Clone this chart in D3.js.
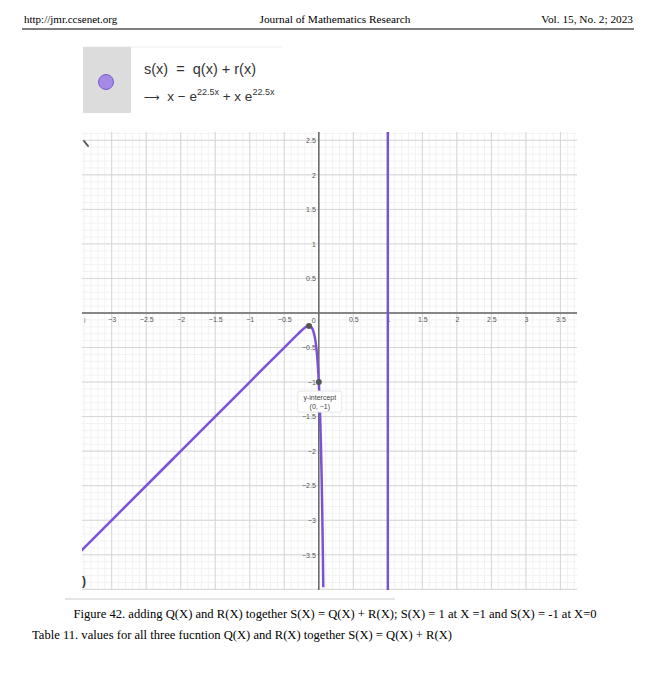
<!DOCTYPE html>
<html><head><meta charset="utf-8">
<script src="https://cdn.jsdelivr.net/npm/d3@7"></script>
<style>body{margin:0;background:#fff}svg{display:block}</style>
</head><body>
<svg id="c" width="655" height="677"></svg>
<script>
// ---- data ----
const xTicks = [-3, -2.5, -2, -1.5, -1, -0.5, 0.5, 1, 1.5, 2, 2.5, 3, 3.5];
const yTicks = [-3.5, -3, -2.5, -2, -1.5, -1, -0.5, 0.5, 1, 1.5, 2, 2.5];
const curveX = [-3.5, -2, -1, -0.5, -0.3, -0.22, -0.18, -0.15, -0.142, -0.12, -0.1, -0.08, -0.06, -0.04, -0.02, 0, 0.01, 0.02, 0.03, 0.04, 0.05, 0.06, 0.065];
const curveY = [-3.5, -2, -1, -0.5, -0.302, -0.227, -0.199, -0.189, -0.188, -0.196, -0.216, -0.261, -0.339, -0.464, -0.670, -1, -1.23, -1.517, -1.87, -2.32, -2.88, -3.57, -3.97];
const asymX = [1, 1];
const asymY = [-4.2, 2.8];
const marked = [{x: -0.142, y: -0.188}, {x: 0, y: -1}];

const svg = d3.select("#c");
const L = 82, R = 577, T = 132, B = 590;
const x = d3.scaleLinear().domain([-3.43, 3.74]).range([L, R]);
const y = d3.scaleLinear().domain([-4.01, 2.62]).range([B, T]);

// header
svg.append("text").attr("x", 24).attr("y", 23).attr("font-family", "Liberation Serif").attr("font-size", 11).attr("fill", "#000").text("http://jmr.ccsenet.org");
svg.append("text").attr("x", 335).attr("y", 23).attr("text-anchor", "middle").attr("font-family", "Liberation Serif").attr("font-size", 11.3).text("Journal of Mathematics Research");
svg.append("text").attr("x", 633).attr("y", 23).attr("text-anchor", "end").attr("font-family", "Liberation Serif").attr("font-size", 11.3).text("Vol. 15, No. 2; 2023");
svg.append("line").attr("x1", 22).attr("x2", 634).attr("y1", 29).attr("y2", 29).attr("stroke", "#000").attr("stroke-width", 1);

// formula panel
svg.append("line").attr("x1", 83).attr("x2", 282).attr("y1", 47).attr("y2", 47).attr("stroke", "#eee");
svg.append("rect").attr("x", 83).attr("y", 47).attr("width", 48).attr("height", 66).attr("fill", "#dcdcdc");
svg.append("circle").attr("cx", 106).attr("cy", 82).attr("r", 7.5).attr("fill", "#a58be6").attr("stroke", "#7a5ccc").attr("stroke-width", 1);
const fF = "Liberation Sans";
svg.append("text").attr("x", 144).attr("y", 74).attr("font-family", fF).attr("font-size", 14.5).attr("fill", "#333").attr("xml:space", "preserve").text("s(x)  =  q(x) + r(x)");
const t2 = svg.append("text").attr("x", 144).attr("y", 101).attr("font-family", fF).attr("font-size", 13.5).attr("fill", "#333").attr("xml:space", "preserve");
t2.append("tspan").attr("font-family", "DejaVu Sans").attr("font-size", 11).text("\u27F6");
t2.append("tspan").text("  x \u2212 e");
t2.append("tspan").attr("dy", -6).attr("font-size", 9).text("22.5x");
t2.append("tspan").attr("dy", 6).text(" + x e");
t2.append("tspan").attr("dy", -6).attr("font-size", 9).text("22.5x");

// grid
const g = svg.append("g");
const minorX = d3.range(-34, 38).map(d => d / 10);
const minorY = d3.range(-40, 27).map(d => d / 10);
g.selectAll(".mx").data(minorX).join("line").attr("x1", d => x(d)).attr("x2", d => x(d)).attr("y1", T).attr("y2", B).attr("stroke", "#f2f2f2").attr("stroke-width", 1);
g.selectAll(".my").data(minorY).join("line").attr("y1", d => y(d)).attr("y2", d => y(d)).attr("x1", L).attr("x2", R).attr("stroke", "#f2f2f2").attr("stroke-width", 1);
const majorX = d3.range(-6, 8).map(d => d / 2);
const majorY = d3.range(-8, 6).map(d => d / 2);
g.selectAll(".Mx").data(majorX).join("line").attr("x1", d => x(d)).attr("x2", d => x(d)).attr("y1", T).attr("y2", B).attr("stroke", "#d6d6d6").attr("stroke-width", 1);
g.selectAll(".My").data(majorY).join("line").attr("y1", d => y(d)).attr("y2", d => y(d)).attr("x1", L).attr("x2", R).attr("stroke", "#d6d6d6").attr("stroke-width", 1);

// axes
const fmt = d => (d < 0 ? "\u2212" : "") + Math.abs(d);
const ax = svg.append("g").attr("transform", `translate(0,${y(0)})`)
  .call(d3.axisBottom(x).tickValues(xTicks).tickSize(0).tickPadding(4).tickFormat(fmt));
ax.select(".domain").remove();
ax.selectAll("text").attr("font-family", fF).attr("font-size", 7).attr("fill", "#555");
const ay = svg.append("g").attr("transform", `translate(${x(0)},0)`)
  .call(d3.axisLeft(y).tickValues(yTicks).tickSize(0).tickPadding(3).tickFormat(fmt));
ay.select(".domain").remove();
ay.selectAll("text").attr("font-family", fF).attr("font-size", 7).attr("fill", "#555");
svg.append("line").attr("x1", L).attr("x2", R).attr("y1", y(0)).attr("y2", y(0)).attr("stroke", "#666").attr("stroke-width", 1.5);
svg.append("line").attr("x1", x(0)).attr("x2", x(0)).attr("y1", T).attr("y2", B).attr("stroke", "#666").attr("stroke-width", 1.5);
svg.append("text").attr("x", x(0) - 5).attr("y", y(0) + 10).attr("text-anchor", "middle").attr("font-family", fF).attr("font-size", 7).attr("fill", "#555").text("0");
svg.append("text").attr("x", L + 2).attr("y", y(0) + 10).attr("font-family", fF).attr("font-size", 7).attr("fill", "#777").text("i");

// curves
svg.append("clipPath").attr("id", "clip").append("rect").attr("x", L).attr("y", T).attr("width", R - L).attr("height", B - T);
const line = d3.line().x(d => x(d[0])).y(d => y(d[1])).curve(d3.curveMonotoneX);
const pts = curveX.map((v, i) => [v, curveY[i]]);
svg.append("path").attr("clip-path", "url(#clip)").attr("d", line(pts)).attr("fill", "none").attr("stroke", "#7b52d6").attr("stroke-width", 2.5);
svg.append("path").attr("clip-path", "url(#clip)").attr("d", d3.line().x(d => x(d[0])).y(d => y(d[1]))(asymX.map((v, i) => [v, asymY[i]]))).attr("fill", "none").attr("stroke", "#7b52d6").attr("stroke-width", 2.5);

// marked points
svg.selectAll(".pt").data(marked).join("circle").attr("cx", d => x(d.x)).attr("cy", d => y(d.y)).attr("r", 3).attr("fill", "#555");

// y-intercept label
const bx = x(0) - 21, by = y(-1) + 9;
svg.append("rect").attr("x", bx).attr("y", by).attr("width", 44).attr("height", 21).attr("fill", "#fff").attr("stroke", "#e6e6e6").attr("rx", 2);
svg.append("text").attr("x", bx + 22).attr("y", by + 9).attr("text-anchor", "middle").attr("font-family", fF).attr("font-size", 7).attr("fill", "#444").text("y-intercept");
svg.append("text").attr("x", bx + 22).attr("y", by + 18).attr("text-anchor", "middle").attr("font-family", fF).attr("font-size", 7).attr("fill", "#444").text("(0, \u22121)");

// stray UI glyphs
svg.append("line").attr("x1", 84).attr("y1", 141).attr("x2", 88).attr("y2", 146).attr("stroke", "#555").attr("stroke-width", 2).attr("stroke-linecap", "round");
svg.append("text").attr("x", 82).attr("y", 585).attr("font-family", fF).attr("font-size", 12).attr("font-weight", "bold").attr("fill", "#333").text(")");
svg.append("line").attr("x1", 65).attr("x2", 395).attr("y1", 599).attr("y2", 599).attr("stroke", "#ddd").attr("stroke-width", 1.5);

// caption
svg.append("text").attr("x", 335).attr("y", 618).attr("text-anchor", "middle").attr("font-family", "Liberation Serif").attr("font-size", 12.6).text("Figure 42. adding Q(X) and R(X) together S(X) = Q(X) + R(X); S(X) = 1 at X =1 and S(X) = -1 at X=0");
svg.append("text").attr("x", 32).attr("y", 639).attr("font-family", "Liberation Serif").attr("font-size", 12.6).text("Table 11. values for all three fucntion Q(X) and R(X) together S(X) = Q(X) + R(X)");
</script>
</body></html>
